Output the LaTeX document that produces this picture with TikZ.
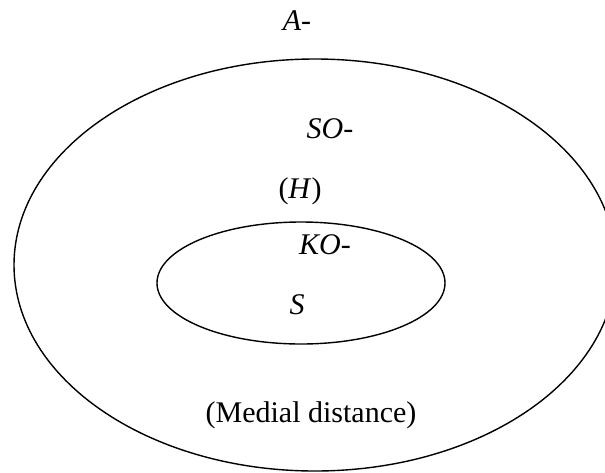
\documentclass[tikz,border=0pt]{standalone}
\usepackage{fontspec}
\setmainfont{Liberation Serif}
\begin{document}
\begin{tikzpicture}[x=1pt,y=-1pt,
  lbl/.style={anchor=base,inner sep=0pt,font=\fontsize{30}{36}\selectfont},
  ring/.style={draw=black,line width=1.4pt}]
\useasboundingbox (0,0) rectangle (605,472);
\clip (0,0) rectangle (605,472);
\draw[ring] (315,265) ellipse [x radius=301, y radius=206];
\draw[ring] (301,283) ellipse [x radius=144, y radius=61];
\node[lbl] (a) at (297,30) {\textit{A}-};
\node[lbl] (so) at (330,138) {\textit{SO}-};
\node[lbl] (h) at (300,198) {(\textit{H})};
\node[lbl] (ko) at (325,254) {\textit{KO}-};
\node[lbl] (s) at (297,314) {\textit{S}};
\node[lbl] (md) at (311,422) {(Medial distance)};
\end{tikzpicture}
\end{document}
